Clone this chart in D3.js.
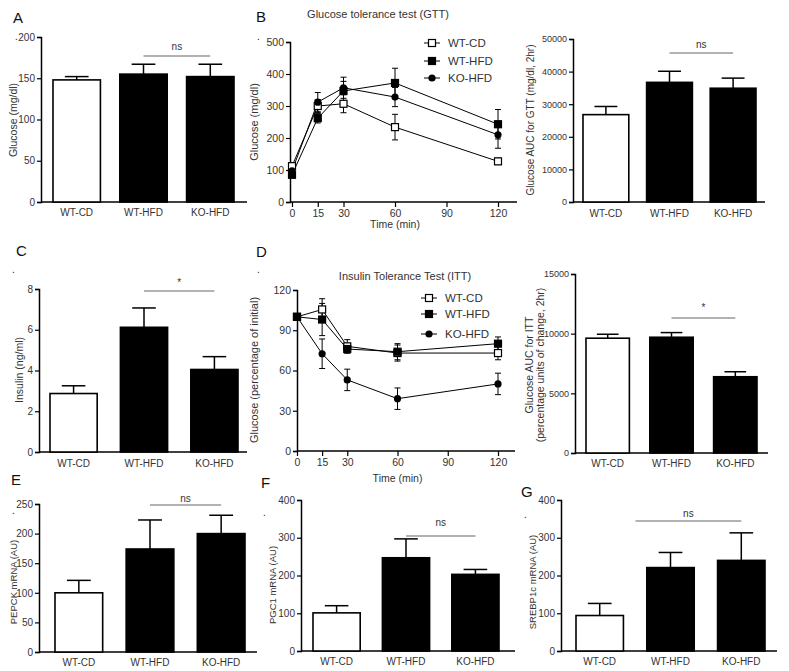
<!DOCTYPE html>
<html><head><meta charset="utf-8">
<script src="https://cdn.jsdelivr.net/npm/d3@7"></script>
<style>body{margin:0;background:#fff}svg{display:block;font-family:"Liberation Sans",Arial,sans-serif}</style>
</head><body><svg id="c" width="789" height="671"></svg>
<script>
// ---------- data ----------
const categories = ["WT-CD", "WT-HFD", "KO-HFD"];
const fastingGlucose = [148, 155, 152];
const fastingGlucoseSem = [4, 12, 15];
const gttAuc = [26800, 36700, 34900];
const gttAucSem = [2500, 3400, 3100];
const insulin = [2.87, 6.12, 4.05];
const insulinSem = [0.38, 0.95, 0.63];
const ittAuc = [9620, 9700, 6390];
const ittAucSem = [330, 390, 420];
const pepck = [100, 174, 200];
const pepckSem = [21, 49, 31];
const pgc1 = [101, 247, 203];
const pgc1Sem = [19, 50, 13];
const srebp1c = [94, 221, 240];
const srebp1cSem = [32, 40, 73];

const timePoints = [0, 15, 30, 60, 120];
const timeTicks = [0, 15, 30, 60, 90, 120];
const gttWtCd = [112, 300, 307, 234, 127];
const gttWtCdSem = [10, 20, 28, 40, 10];
const gttWtHfd = [85, 262, 347, 372, 243];
const gttWtHfdSem = [8, 15, 30, 46, 46];
const gttKoHfd = [97, 312, 357, 328, 210];
const gttKoHfdSem = [8, 30, 33, 30, 42];
const ittWtCd = [100, 105.5, 78, 73, 73];
const ittWtCdSem = [0, 8, 5, 6, 5];
const ittWtHfd = [100, 98, 76, 74, 80];
const ittWtHfdSem = [0, 12, 3, 6, 5];
const ittKoHfd = [100, 72.5, 53, 39, 50];
const ittKoHfdSem = [0, 11, 8, 8, 8];

const barColors = ["#fff", "#000", "#000"];
const lineSymbols = ["openSquare", "square", "circle"];

// ---------- drawing ----------
const svg = d3.select("#c");
const TXT = "#333";

function text(x, y, s, opt = {}) {
  const t = svg.append("text").attr("x", x).attr("y", y).text(s)
    .attr("font-size", opt.size || 10).attr("fill", opt.fill || TXT)
    .attr("text-anchor", opt.anchor || "start");
  if (opt.rotate) t.attr("transform", `rotate(-90,${x},${y})`);
  return t;
}

function yAxis(g, y, x, ticks, fs) {
  const ax = g.append("g").attr("transform", `translate(${x},0)`)
    .call(d3.axisLeft(y).tickValues(ticks).tickSize(4).tickPadding(2).tickFormat(d3.format("d")));
  ax.select(".domain").attr("stroke", "#000").attr("stroke-width", 1.5);
  ax.selectAll(".tick line").attr("stroke", "#000").attr("stroke-width", 1.2);
  ax.selectAll(".tick text").attr("fill", TXT).attr("font-size", fs || 10)
    .attr("font-family", '"Liberation Sans",Arial,sans-serif');
  return ax;
}

function barPanel(p) {
  const g = svg.append("g");
  const y = d3.scaleLinear().domain([0, p.max]).range([p.y0, p.y1]);
  const x = d3.scaleBand().domain(categories).range(p.barRange).paddingInner(p.pad);
  yAxis(g, y, p.ax, p.ticks, p.tickFs);
  g.append("line").attr("x1", p.ax).attr("x2", p.axEnd).attr("y1", p.y0).attr("y2", p.y0)
    .attr("stroke", "#000").attr("stroke-width", 1.5);
  const bw = x.bandwidth();
  categories.forEach((c, i) => {
    const v = p.values[i], e = p.sem[i];
    const cx = x(c) + bw / 2;
    g.append("line").attr("x1", cx).attr("x2", cx).attr("y1", y(v)).attr("y2", y(v + e))
      .attr("stroke", "#000").attr("stroke-width", 1.5);
    g.append("line").attr("x1", cx - bw * 0.25).attr("x2", cx + bw * 0.25)
      .attr("y1", y(v + e)).attr("y2", y(v + e)).attr("stroke", "#000").attr("stroke-width", 1.5);
    g.append("rect").attr("x", x(c)).attr("y", y(v)).attr("width", bw).attr("height", p.y0 - y(v))
      .attr("fill", barColors[i]).attr("stroke", "#000").attr("stroke-width", 1.6);
    text(cx, p.labelY, c, {anchor: "middle", size: 10});
  });
  const sx0 = x(categories[1]) + bw / 2 + (p.sigOff || 0), sx1 = x(categories[2]) + bw / 2;
  g.append("line").attr("x1", sx0).attr("x2", sx1).attr("y1", p.sigY).attr("y2", p.sigY)
    .attr("stroke", "#666").attr("stroke-width", 1.2);
  text((sx0 + sx1) / 2 + (p.sigTextOff || 0), p.sigTextY, p.sig, {anchor: "middle", size: 10});
  p.ylabel.forEach((l, k) => text(l[0], l[1], l[2], {anchor: "middle", rotate: true, size: l[3] || 10}));
}

function symbol(g, kind, cx, cy) {
  if (kind === "circle") g.append("circle").attr("cx", cx).attr("cy", cy).attr("r", 3.6).attr("fill", "#000");
  else g.append("rect").attr("x", cx - 3.5).attr("y", cy - 3.5).attr("width", 7).attr("height", 7)
    .attr("fill", kind === "square" ? "#000" : "#fff").attr("stroke", "#000").attr("stroke-width", 1.2);
}

function linePanel(p) {
  const g = svg.append("g");
  const y = d3.scaleLinear().domain([0, p.max]).range([p.y0, p.y1]);
  const x = d3.scaleLinear().domain([0, 120]).range(p.xRange);
  yAxis(g, y, p.ax, p.ticks, 10.5);
  const xa = g.append("g").attr("transform", `translate(0,${p.y0})`)
    .call(d3.axisBottom(x).tickValues(timeTicks).tickSize(5).tickPadding(3));
  xa.select(".domain").remove();
  xa.selectAll(".tick line").attr("stroke", "#000").attr("stroke-width", 1.2);
  xa.selectAll(".tick text").attr("fill", TXT).attr("font-size", 10.5)
    .attr("font-family", '"Liberation Sans",Arial,sans-serif');
  g.append("line").attr("x1", p.ax).attr("x2", p.axEnd).attr("y1", p.y0).attr("y2", p.y0)
    .attr("stroke", "#000").attr("stroke-width", 1.5);
  const line = d3.line().x((d, i) => x(timePoints[i])).y(d => y(d));
  p.series.forEach((s, k) => {
    g.append("path").attr("d", line(s.v)).attr("fill", "none").attr("stroke", "#000").attr("stroke-width", 1);
    s.v.forEach((v, i) => {
      const e = s.e[i], cx = x(timePoints[i]);
      if (e > 0) {
        g.append("line").attr("x1", cx).attr("x2", cx).attr("y1", y(v - e)).attr("y2", y(v + e)).attr("stroke", "#000");
        [v - e, v + e].forEach(w => g.append("line").attr("x1", cx - 3).attr("x2", cx + 3)
          .attr("y1", y(w)).attr("y2", y(w)).attr("stroke", "#000"));
      }
    });
  });
  p.series.forEach((s, k) => s.v.forEach((v, i) => symbol(g, lineSymbols[k], x(timePoints[i]), y(v))));
  // legend
  categories.forEach((c, k) => {
    const ly = p.legY[k];
    g.append("line").attr("x1", p.legX - 8).attr("x2", p.legX + 8).attr("y1", ly).attr("y2", ly).attr("stroke", "#000");
    symbol(g, lineSymbols[k], p.legX, ly);
    text(p.legX + 16, ly + 4, c, {size: 11.5});
  });
  text(p.titleX, p.titleY, p.title, {anchor: "middle", size: 11});
  text((p.xRange[0] + p.xRange[1]) / 2, p.xlabY, "Time (min)", {anchor: "middle", size: 10.5});
  text(p.ylabX, p.ylabY, p.ylab, {anchor: "middle", rotate: true, size: 11});
}

// Panel A
barPanel({values: fastingGlucose, sem: fastingGlucoseSem, max: 200, ticks: [0, 50, 100, 150, 200],
  y0: 202, y1: 37, ax: 41, axEnd: 247, barRange: [53, 234], pad: 0.29, labelY: 216,
  sig: "ns", sigY: 56, sigTextY: 50, ylabel: [[17, 120, "Glucose (mg/dl)", 10.5]]});
// Panel B AUC
barPanel({values: gttAuc, sem: gttAucSem, max: 50000, ticks: [0, 10000, 20000, 30000, 40000, 50000],
  y0: 202, y1: 39, ax: 573, axEnd: 765, barRange: [583, 756], pad: 0.28, labelY: 217, tickFs: 9,
  sig: "ns", sigY: 53, sigTextY: 48, ylabel: [[534, 120, "Glucose AUC for GTT (mg/dl, 2hr)", 10]]});
// Panel C
barPanel({values: insulin, sem: insulinSem, max: 8, ticks: [0, 2, 4, 6, 8],
  y0: 452, y1: 289, ax: 39, axEnd: 247, barRange: [50, 238], pad: 0.33, labelY: 467,
  sig: "*", sigY: 291, sigTextY: 286, ylabel: [[23, 370, "Insulin (ng/ml)", 10.5]]});
// Panel D AUC
barPanel({values: ittAuc, sem: ittAucSem, max: 15000, ticks: [0, 5000, 10000, 15000],
  y0: 453, y1: 274, ax: 575, axEnd: 768, barRange: [586, 757], pad: 0.32, labelY: 467, tickFs: 9,
  sig: "*", sigY: 318, sigTextY: 311,
  ylabel: [[533, 365, "Glucose AUC for ITT", 10.5], [544, 365, "(percentage units of change, 2hr)", 10.5]]});
// Panel E
barPanel({values: pepck, sem: pepckSem, max: 250, ticks: [0, 50, 100, 150, 200, 250],
  y0: 652, y1: 504, ax: 39, axEnd: 257, barRange: [55, 245], pad: 0.33, labelY: 666,
  sig: "ns", sigY: 505, sigTextY: 502, ylabel: [[17, 582, "PEPCK mRNA  (AU)", 9.5]]});
// Panel F
barPanel({values: pgc1, sem: pgc1Sem, max: 400, ticks: [0, 100, 200, 300, 400],
  y0: 651, y1: 500, ax: 301, axEnd: 515, barRange: [313, 499], pad: 0.32, labelY: 665,
  sig: "ns", sigY: 536, sigTextY: 526, ylabel: [[276, 585, "PGC1 mRNA  (AU)", 9.5]]});
// Panel G
barPanel({values: srebp1c, sem: srebp1cSem, max: 400, ticks: [0, 100, 200, 300, 400],
  y0: 651, y1: 500, ax: 561, axEnd: 777, barRange: [576, 765], pad: 0.33, labelY: 665,
  sig: "ns", sigY: 521, sigTextY: 517, sigOff: -35, ylabel: [[536, 582, "SREBP1c mRNA  (AU)", 9.5]]});

// Panel B GTT
linePanel({max: 500, ticks: [0, 100, 200, 300, 400, 500], y0: 202, y1: 42, ax: 290, axEnd: 517,
  xRange: [292, 498],
  series: [{v: gttWtCd, e: gttWtCdSem}, {v: gttWtHfd, e: gttWtHfdSem}, {v: gttKoHfd, e: gttKoHfdSem}],
  legX: 432, legY: [43, 61, 78], title: "Glucose tolerance test (GTT)", titleX: 378, titleY: 18,
  xlabY: 228, ylab: "Glucose (mg/dl)", ylabX: 258, ylabY: 122});
// Panel D ITT
linePanel({max: 120, ticks: [0, 30, 60, 90, 120], y0: 451, y1: 290, ax: 297, axEnd: 515,
  xRange: [297, 498],
  series: [{v: ittWtCd, e: ittWtCdSem}, {v: ittWtHfd, e: ittWtHfdSem}, {v: ittKoHfd, e: ittKoHfdSem}],
  legX: 429, legY: [298, 314, 334], title: "Insulin Tolerance Test (ITT)", titleX: 405, titleY: 280,
  xlabY: 482, ylab: "Glucose (percentage of initial)", ylabX: 258, ylabY: 370});

// panel letters
[["A", 13, 23], ["B", 256, 22], ["C", 16, 256], ["D", 256, 257], ["E", 11, 485], ["F", 261, 488], ["G", 521, 497]]
  .forEach(l => text(l[1], l[2], l[0], {size: 15, fill: "#111"}));
// stray dots in the original
[[15, 40], [257, 40], [12, 273], [257, 273], [12, 514], [263, 516], [524, 518]]
  .forEach(d => text(d[0], d[1], ".", {size: 10, fill: "#222"}));
</script></body></html>
